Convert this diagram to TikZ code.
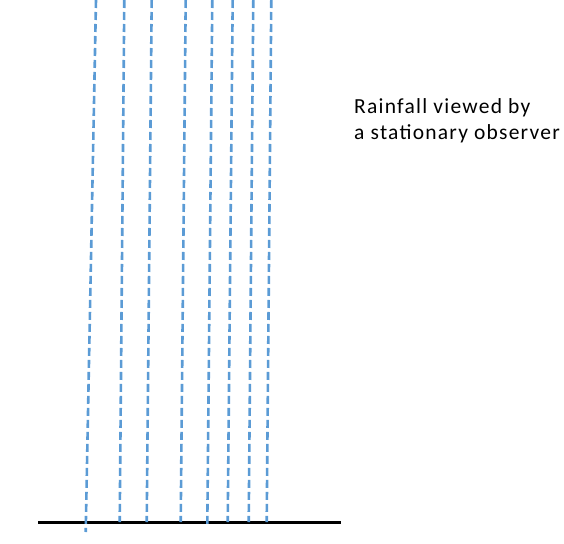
\documentclass[tikz,border=0pt]{standalone}
\usepackage{fontspec}
\setmainfont{Carlito}
\newfontfamily\capfont[LetterSpace=5.8]{Carlito}
\usepackage{tikz}
\definecolor{rainblue}{HTML}{5B9BD5}

\begin{document}
\begin{tikzpicture}[x=1pt, y=-1pt,
    rain/.style={rainblue, line width=2.6pt, dash pattern=on 8pt off 4pt},
    ground/.style={black, line width=2.2pt},
    caption/.style={anchor=base west, inner sep=0pt, font=\capfont\fontsize{21.5}{26}\selectfont}]
    \useasboundingbox (0, 0) rectangle (564, 543);

    % The ground
    \coordinate (gl) at (38, 522.5);
    \coordinate (gr) at (340.5, 522.5);
    \draw[ground] (gl) -- (gr);

    % Raindrop streaks, from the top edge down to the ground
    \draw[rain] (96, 0) -- (85.7, 532);
    \foreach \top/\bot/\yb in {124.3/119.7/522, 151.7/146.7/522, 185.7/180.7/522,
                               212.3/207.3/525, 232.7/227.7/522, 253.3/248.7/522,
                               271.3/266.7/522} {
        \draw[rain] (\top, 0) -- (\bot, \yb);
    }

    % Caption
    \node[caption] (cap1) at (354, 113.3) {Rainfall viewed by};
    \node[caption] (cap2) at (354, 139.3) {a stationary observer};
\end{tikzpicture}
\end{document}
